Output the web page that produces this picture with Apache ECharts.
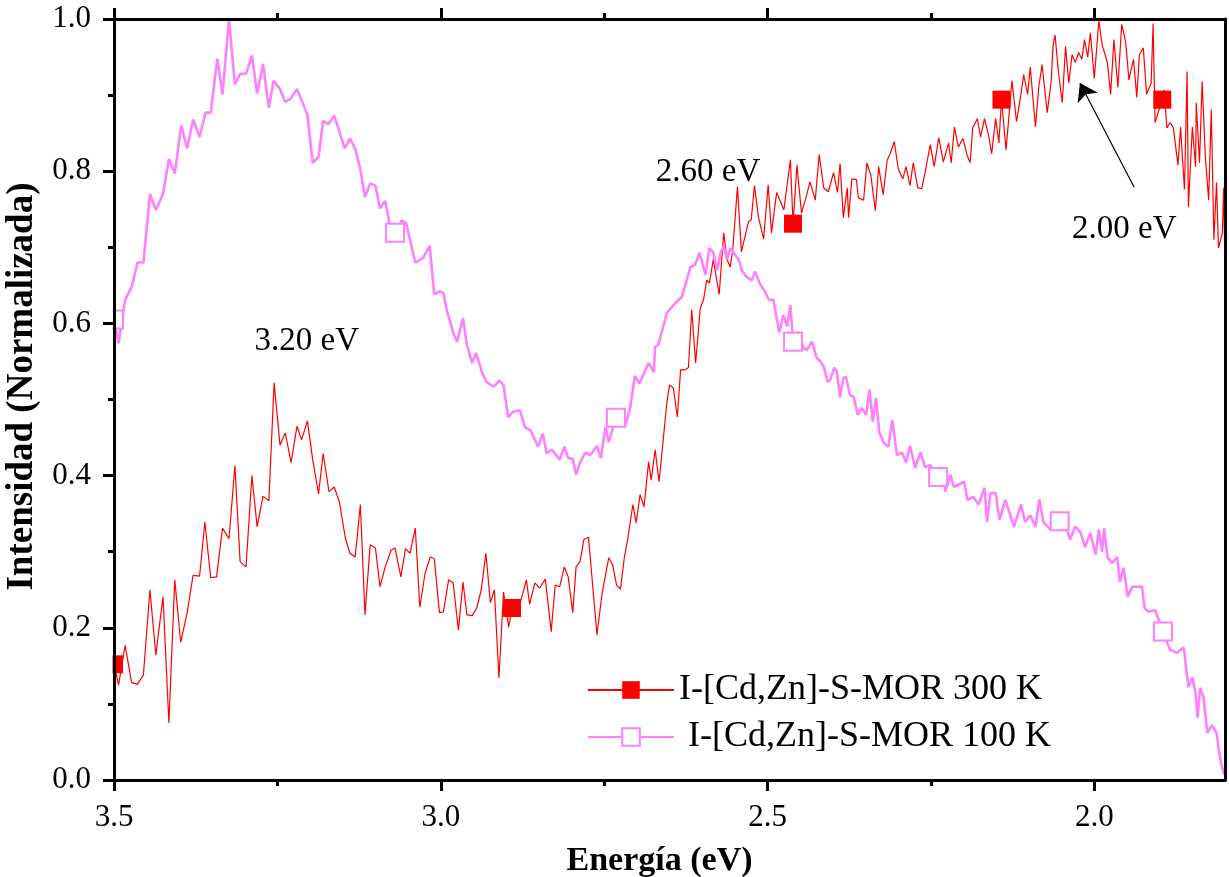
<!DOCTYPE html>
<html>
<head>
<meta charset="utf-8">
<script src="https://cdn.jsdelivr.net/npm/echarts@6/dist/echarts.min.js"></script>
<style>
html,body{margin:0;padding:0;background:#fff;}
#chart{width:1229px;height:877px;}
</style>
</head>
<body>
<div id="chart"></div>
<script>
// ---- data ----
const seriesNames = ['I-[Cd,Zn]-S-MOR 300 K', ' I-[Cd,Zn]-S-MOR 100 K'];
const xMajorTicks = [2.0, 2.5, 3.0, 3.5];
const xMinorTicks = [2.25, 2.75, 3.25];

const e300 = [
3.500,3.493,3.483,3.473,3.464,3.455,3.445,3.436,3.425,3.416,
3.407,3.398,3.388,3.379,3.369,3.361,3.352,3.343,3.334,3.324,
3.315,3.307,3.298,3.289,3.281,3.272,3.263,3.255,3.246,3.238,
3.229,3.220,3.213,3.204,3.196,3.187,3.180,3.171,3.163,3.155,
3.146,3.139,3.131,3.123,3.116,3.108,3.100,3.093,3.085,3.076,
3.070,3.061,3.054,3.047,3.039,3.032,3.024,3.016,3.010,3.002,
2.996,2.988,2.981,2.973,2.966,2.960,2.952,2.945,2.938,2.931,
2.924,2.918,2.911,2.904,2.896,2.891,2.878,2.869,2.864,2.856,
2.849,2.840,2.831,2.825,2.818,2.811,2.805,2.798,2.793,2.787,
2.781,2.774,2.761,2.753,2.743,2.737,2.731,2.725,2.719,2.714,
2.706,2.701,2.695,2.689,2.682,2.678,2.672,2.666,2.654,2.650,
2.644,2.638,2.633,2.626,2.621,2.616,2.610,2.603,2.598,2.593,
2.589,2.583,2.574,2.567,2.562,2.557,2.553,2.546,2.540,2.529,
2.525,2.520,2.514,2.506,2.499,2.494,2.486,2.475,2.465,2.461,
2.455,2.448,2.441,2.435,2.427,2.421,2.414,2.407,2.399,2.393,
2.389,2.384,2.378,2.376,2.371,2.364,2.361,2.353,2.348,2.342,
2.335,2.330,2.323,2.317,2.312,2.306,2.300,2.293,2.288,2.282,
2.277,2.270,2.264,2.259,2.251,2.245,2.238,2.231,2.223,2.219,
2.214,2.208,2.201,2.195,2.190,2.186,2.179,2.174,2.168,2.162,
2.157,2.151,2.146,2.142,2.135,2.126,2.119,2.113,2.108,2.102,
2.098,2.090,2.085,2.080,2.072,2.066,2.063,2.060,2.055,2.049,
2.044,2.039,2.034,2.029,2.024,2.019,2.015,2.010,2.006,2.000,
1.993,1.988,1.980,1.975,1.970,1.964,1.958,1.952,1.947,1.940,
1.935,1.931,1.925,1.920,1.913,1.910,1.907,1.896,1.893,1.889,
1.884,1.879,1.872,1.868,1.862,1.858,1.856,1.850,1.845,1.844,
1.839,1.835,1.830,1.825,1.821,1.817,1.813,1.810,1.804,1.802,1.800
];
const i300 = [
0.152,0.125,0.177,0.128,0.126,0.138,0.250,0.164,0.241,0.075,
0.263,0.181,0.220,0.269,0.268,0.339,0.266,0.267,0.331,0.317,
0.413,0.287,0.280,0.400,0.333,0.373,0.367,0.522,0.440,0.456,
0.417,0.465,0.447,0.472,0.421,0.376,0.429,0.379,0.385,0.365,
0.318,0.298,0.293,0.362,0.217,0.309,0.305,0.254,0.280,0.302,
0.305,0.267,0.304,0.298,0.331,0.227,0.272,0.293,0.291,0.220,
0.221,0.263,0.259,0.197,0.260,0.217,0.216,0.226,0.250,0.298,
0.233,0.250,0.134,0.247,0.201,0.226,0.234,0.263,0.231,0.259,
0.252,0.264,0.195,0.256,0.254,0.280,0.267,0.220,0.280,0.287,
0.316,0.319,0.191,0.246,0.292,0.283,0.256,0.251,0.293,0.316,
0.362,0.338,0.375,0.359,0.418,0.394,0.434,0.392,0.496,0.519,
0.515,0.477,0.539,0.539,0.542,0.618,0.548,0.620,0.631,0.657,
0.653,0.684,0.638,0.719,0.684,0.674,0.699,0.780,0.694,0.734,
0.736,0.781,0.740,0.711,0.782,0.719,0.772,0.749,0.815,0.731,
0.808,0.745,0.766,0.786,0.762,0.822,0.778,0.773,0.798,0.772,
0.810,0.739,0.778,0.739,0.790,0.789,0.765,0.762,0.811,0.795,
0.748,0.806,0.769,0.814,0.824,0.839,0.803,0.790,0.806,0.781,
0.811,0.778,0.777,0.798,0.835,0.806,0.844,0.812,0.837,0.811,
0.858,0.832,0.843,0.822,0.811,0.857,0.869,0.845,0.869,0.848,
0.823,0.869,0.837,0.894,0.828,0.919,0.865,0.897,0.927,0.901,
0.937,0.858,0.910,0.940,0.877,0.918,0.966,0.979,0.931,0.890,
0.964,0.916,0.953,0.943,0.956,0.947,0.973,0.950,0.982,0.922,
0.998,0.966,0.943,0.901,0.973,0.910,0.993,0.970,0.920,0.947,
0.897,0.953,0.962,0.901,0.916,0.994,0.864,0.894,0.907,0.857,
0.864,0.857,0.808,0.858,0.776,0.931,0.753,0.858,0.806,0.890,
0.811,0.918,0.818,0.762,0.881,0.710,0.785,0.699,0.719,0.778,0.667
];
const mark300 = [3.500, 2.891, 2.461, 2.142, 1.896];

const e100 = [
3.500,3.493,3.483,3.473,3.464,3.455,3.445,3.436,3.425,3.416,
3.407,3.397,3.388,3.379,3.369,3.360,3.352,3.342,3.334,3.324,
3.315,3.307,3.298,3.289,3.281,3.272,3.263,3.256,3.246,3.238,
3.230,3.220,3.204,3.196,3.187,3.180,3.172,3.163,3.147,3.139,
3.131,3.123,3.116,3.108,3.100,3.093,3.085,3.078,3.070,3.060,
3.053,3.039,3.027,3.017,3.010,3.002,2.996,2.991,2.981,2.975,
2.966,2.960,2.952,2.946,2.937,2.930,2.919,2.910,2.904,2.897,
2.889,2.879,2.871,2.863,2.851,2.844,2.838,2.830,2.818,2.811,
2.805,2.798,2.793,2.787,2.779,2.771,2.761,2.755,2.748,2.743,
2.732,2.718,2.710,2.703,2.696,2.682,2.674,2.672,2.667,2.654,
2.644,2.631,2.618,2.611,2.604,2.595,2.589,2.583,2.577,2.572,
2.567,2.562,2.557,2.552,2.544,2.539,2.532,2.524,2.519,2.512,
2.504,2.498,2.491,2.482,2.476,2.470,2.465,2.461,2.453,2.445,
2.440,2.432,2.425,2.419,2.414,2.408,2.404,2.398,2.394,2.389,
2.384,2.380,2.374,2.368,2.362,2.356,2.349,2.344,2.339,2.334,
2.329,2.322,2.315,2.309,2.302,2.294,2.288,2.282,2.274,2.266,
2.259,2.251,2.239,2.231,2.228,2.220,2.215,2.208,2.199,2.194,
2.185,2.177,2.168,2.164,2.159,2.151,2.145,2.136,2.128,2.123,
2.112,2.106,2.098,2.090,2.084,2.078,2.067,2.053,2.042,2.037,
2.029,2.021,2.014,2.006,1.998,1.993,1.988,1.985,1.980,1.973,
1.965,1.961,1.955,1.949,1.942,1.935,1.927,1.923,1.917,1.907,
1.901,1.895,1.884,1.873,1.868,1.863,1.856,1.850,1.845,1.842,
1.838,1.833,1.827,1.820,1.813,1.807,1.802,1.800
];
const i100 = [
0.605,0.574,0.631,0.648,0.680,0.680,0.770,0.749,0.770,0.816,
0.797,0.860,0.830,0.868,0.845,0.877,0.877,0.948,0.901,1.000,
0.914,0.928,0.928,0.952,0.902,0.941,0.883,0.919,0.908,0.891,
0.895,0.908,0.874,0.811,0.819,0.866,0.862,0.873,0.830,0.843,
0.830,0.802,0.766,0.784,0.781,0.751,0.761,0.730,0.719,0.735,
0.732,0.680,0.686,0.702,0.638,0.642,0.640,0.618,0.588,0.576,
0.607,0.572,0.548,0.561,0.536,0.523,0.517,0.525,0.519,0.477,
0.484,0.486,0.463,0.460,0.438,0.455,0.429,0.434,0.421,0.438,
0.423,0.422,0.401,0.417,0.430,0.427,0.439,0.423,0.464,0.444,
0.476,0.464,0.490,0.531,0.521,0.548,0.536,0.569,0.572,0.614,
0.624,0.635,0.674,0.677,0.693,0.664,0.699,0.693,0.670,0.693,
0.701,0.684,0.699,0.693,0.684,0.669,0.661,0.657,0.668,0.653,
0.642,0.631,0.631,0.588,0.611,0.596,0.624,0.576,0.589,0.568,
0.565,0.576,0.555,0.550,0.543,0.523,0.526,0.542,0.536,0.503,
0.528,0.530,0.506,0.503,0.480,0.489,0.480,0.513,0.471,0.502,
0.457,0.443,0.438,0.473,0.427,0.430,0.417,0.439,0.410,0.431,
0.411,0.414,0.398,0.411,0.379,0.401,0.385,0.388,0.392,0.368,
0.372,0.362,0.384,0.339,0.377,0.377,0.342,0.368,0.346,0.333,
0.362,0.339,0.348,0.333,0.369,0.339,0.329,0.340,0.329,0.316,
0.333,0.325,0.306,0.325,0.296,0.329,0.300,0.331,0.293,0.285,
0.293,0.260,0.279,0.241,0.254,0.254,0.254,0.226,0.221,0.223,
0.210,0.195,0.171,0.167,0.171,0.174,0.122,0.135,0.114,0.082,
0.121,0.109,0.062,0.072,0.062,0.026,0.009,0.007
];
const mark100 = [3.500, 3.070, 2.732, 2.461, 2.239, 2.053, 1.895];

const peakLabels = ['3.20 eV', '2.60 eV', '2.00 eV'];

// ---- chart ----
const FONT = "'Liberation Serif', 'Times New Roman', serif";
function pairs(xs, ys) {
  const n = Math.min(xs.length, ys.length);
  const out = [];
  for (let k = 0; k < n; k++) out.push([xs[k], ys[k]]);
  return out;
}
function xAxisBase(pos) {
  return {
    type: 'value', min: 1.8, max: 3.5, inverse: true, position: pos, z: 5,
    splitLine: { show: false },
    axisLine: { onZero: false }
  };
}

const chart = echarts.init(document.getElementById('chart'), null, { renderer: 'canvas' });
const option = {
  animation: false,
  backgroundColor: '#ffffff',
  grid: { left: 114, right: 4, top: 19, bottom: 97, containLabel: false, outerBoundsMode: 'none' },
  legend: {
    orient: 'vertical', left: 587, top: 672, padding: 0, z: 6,
    itemWidth: 86, itemHeight: 22, itemGap: 11,
    textStyle: { fontFamily: FONT, fontSize: 36, lineHeight: 36, color: '#000' },
    data: seriesNames
  },
  // white strip left of the plot frame, so markers sitting on the 3.5 eV edge are cut at the frame like in the reference
  graphic: [{
    type: 'rect', z: 4, silent: true,
    shape: { x: 0, y: 0, width: 112.5, height: 877 },
    style: { fill: '#ffffff' }
  }],
  xAxis: [
    Object.assign(xAxisBase('bottom'), {
      name: 'Energía (eV)', nameLocation: 'middle', nameGap: 64,
      nameTextStyle: { fontFamily: FONT, fontSize: 34, fontWeight: 'bold', color: '#000', padding: [0, 20, 0, 0] },
      axisLine: { show: true, onZero: false, lineStyle: { color: '#000', width: 3 } },
      axisTick: { show: true, inside: false, length: 11, customValues: xMajorTicks, lineStyle: { color: '#000', width: 3 } },
      axisLabel: { show: true, margin: 22, customValues: xMajorTicks, formatter: v => Number(v).toFixed(1),
        fontFamily: FONT, fontSize: 31, color: '#000' }
    }),
    Object.assign(xAxisBase('bottom'), {
      axisLine: { show: false, onZero: false },
      axisTick: { show: true, inside: false, length: 6, customValues: xMinorTicks, lineStyle: { color: '#000', width: 3 } },
      axisLabel: { show: false }
    }),
    Object.assign(xAxisBase('top'), {
      axisLine: { show: true, onZero: false, lineStyle: { color: '#000', width: 3 } },
      axisTick: { show: true, inside: false, length: 11, customValues: xMajorTicks, lineStyle: { color: '#000', width: 3 } },
      axisLabel: { show: false }
    }),
    Object.assign(xAxisBase('top'), {
      axisLine: { show: false, onZero: false },
      axisTick: { show: true, inside: false, length: 6, customValues: xMinorTicks, lineStyle: { color: '#000', width: 3 } },
      axisLabel: { show: false }
    })
  ],
  yAxis: [
    {
      type: 'value', min: 0, max: 1, interval: 0.2, position: 'left', z: 5,
      name: 'Intensidad (Normalizada)', nameLocation: 'middle', nameGap: 72, nameRotate: 90,
      nameTextStyle: { fontFamily: FONT, fontSize: 37, fontWeight: 'bold', color: '#000', padding: [0, 0, 0, 26] },
      splitLine: { show: false },
      axisLine: { show: true, onZero: false, lineStyle: { color: '#000', width: 3 } },
      axisTick: { show: true, inside: false, length: 11, lineStyle: { color: '#000', width: 3 } },
      minorTick: { show: true, splitNumber: 2, length: 6, lineStyle: { color: '#000', width: 3 } },
      axisLabel: { margin: 23, formatter: v => Number(v).toFixed(1), fontFamily: FONT, fontSize: 31, color: '#000' }
    },
    {
      type: 'value', min: 0, max: 1, position: 'right', z: 5,
      splitLine: { show: false },
      axisLine: { show: true, onZero: false, lineStyle: { color: '#000', width: 3 } },
      axisTick: { show: false }, axisLabel: { show: false }
    }
  ],
  series: [
    {
      name: seriesNames[0], type: 'line', xAxisIndex: 0, yAxisIndex: 0,
      data: pairs(e300, i300),
      clip: true, showSymbol: true, showAllSymbol: true,
      symbol: 'rect',
      symbolSize: v => (mark300.indexOf(v[0]) >= 0 ? 18 : 0),
      lineStyle: { color: '#ff0000', width: 1.2 },
      itemStyle: { color: '#ff0000', borderWidth: 0 },
      emphasis: { disabled: true },
      z: 2,
      markPoint: {
        symbol: 'rect', symbolSize: 1, silent: true,
        itemStyle: { color: 'rgba(0,0,0,0)' },
        label: { show: true, position: 'inside', formatter: '{b}', fontFamily: FONT, fontSize: 33, color: '#000' },
        data: [
          { name: peakLabels[0], coord: [3.205, 0.576] },
          { name: peakLabels[1], coord: [2.591, 0.799] },
          { name: peakLabels[2], coord: [1.954, 0.724] }
        ]
      },
      markLine: {
        silent: true, symbol: ['none', 'arrow'], symbolSize: 17,
        label: { show: false },
        lineStyle: { color: '#000', width: 1.2, type: 'solid' },
        data: [[ { coord: [1.939, 0.779] }, { coord: [2.022, 0.916] } ]]
      }
    },
    {
      name: seriesNames[1], type: 'line', xAxisIndex: 0, yAxisIndex: 0,
      data: pairs(e100, i100),
      clip: true, showSymbol: true, showAllSymbol: true,
      symbol: 'emptyRect',
      symbolSize: v => (mark100.indexOf(v[0]) >= 0 ? 18 : 0),
      lineStyle: { color: '#ff80ff', width: 2.6 },
      itemStyle: { color: '#ff80ff', borderWidth: 1.3 },
      emphasis: { disabled: true },
      z: 3
    }
  ]
};
chart.setOption(option);
</script>
</body>
</html>
